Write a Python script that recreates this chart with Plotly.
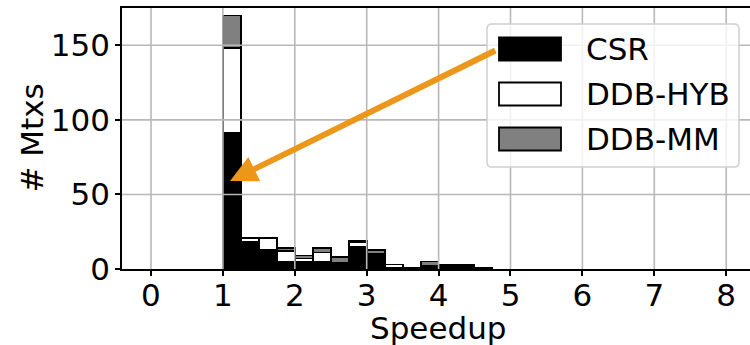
import plotly.graph_objects as go

# ---- data ----
bin_starts = [1.00, 1.25, 1.50, 1.75, 2.00, 2.25, 2.50, 2.75, 3.00, 3.25, 3.50, 3.75, 4.00, 4.25, 4.50]
bin_width = 0.25
csr = [91, 18, 13, 5, 5, 5, 4, 15, 10, 1, 1, 2, 3, 3, 1]
ddb_hyb = [57, 3, 8, 7, 2, 6, 0, 3, 0, 2, 0, 0, 0, 0, 0]
ddb_mm = [22, 0, 0, 2, 2, 3, 4, 1, 3, 0, 0, 3, 0, 0, 0]
series_names = ["CSR", "DDB-HYB", "DDB-MM"]
series_colors = ["black", "white", "gray"]
x_ticks = [0, 1, 2, 3, 4, 5, 6, 7, 8]
y_ticks = [0, 50, 100, 150]
x_label = "Speedup"
y_label = "# Mtxs"
arrow_tail = (4.81, 147)
arrow_tip = (1.10, 59)

# ---- geometry ----
W, H = 750, 345
ML, MR, MT, MB = 122, 0, 8, 76
PW, PH = W - ML - MR, H - MT - MB
XR = [-0.403, 8.331]
YR = [0, 175]
FONT = "DejaVu Sans"
FS = 31
ORANGE = "#EC9719"
GRID = "#b8b8b8"


def px(X):
    return (X - ML) / PW


def py(Y):
    return (H - MB - Y) / PH


centers = [s + bin_width / 2 for s in bin_starts]

fig = go.Figure()
for name, vals, col in zip(series_names, [csr, ddb_hyb, ddb_mm], series_colors):
    fig.add_trace(go.Bar(
        x=centers, y=vals, width=bin_width, name=name,
        marker=dict(color=col, line=dict(color="black", width=1.8)),
        showlegend=False,
    ))

shapes = []
# grid lines drawn above bars (as in the reference)
for t in x_ticks:
    shapes.append(dict(type="line", xref="x", yref="paper", x0=t, x1=t, y0=0, y1=1,
                       line=dict(color=GRID, width=1.6), layer="above"))
for t in y_ticks[1:]:
    shapes.append(dict(type="line", xref="paper", yref="y", x0=0, x1=1, y0=t, y1=t,
                       line=dict(color=GRID, width=1.6), layer="above"))

# legend frame (rounded, semi-transparent)
lx0, lx1, ly0, ly1 = px(487), px(739), py(167), py(24)
rx, ry = 5 / PW, 5 / PH
path = (f"M{lx0+rx},{ly0} L{lx1-rx},{ly0} Q{lx1},{ly0} {lx1},{ly0+ry} "
        f"L{lx1},{ly1-ry} Q{lx1},{ly1} {lx1-rx},{ly1} L{lx0+rx},{ly1} "
        f"Q{lx0},{ly1} {lx0},{ly1-ry} L{lx0},{ly0+ry} Q{lx0},{ly0} {lx0+rx},{ly0} Z")
shapes.append(dict(type="path", xref="paper", yref="paper", path=path,
                   fillcolor="rgba(255,255,255,0.8)",
                   line=dict(color="#d0d0d0", width=1.5), layer="above"))

annotations = []
row_centers = [49, 94, 139]
for name, col, yc in zip(series_names, series_colors, row_centers):
    shapes.append(dict(type="rect", xref="paper", yref="paper",
                       x0=px(499), x1=px(561), y0=py(yc + 11.5), y1=py(yc - 11.5),
                       fillcolor=col, line=dict(color="black", width=1.8), layer="above"))
    annotations.append(dict(text=name, xref="paper", yref="paper", x=px(584), y=py(yc),
                            xanchor="left", yanchor="middle", showarrow=False,
                            font=dict(family=FONT, size=FS, color="black")))

# arrow
annotations.append(dict(text="", x=arrow_tip[0], y=arrow_tip[1], xref="x", yref="y",
                        ax=arrow_tail[0], ay=arrow_tail[1], axref="x", ayref="y",
                        showarrow=True, arrowhead=2, arrowsize=0.9, arrowwidth=6,
                        arrowcolor=ORANGE, standoff=0, startstandoff=0))

# axis titles
annotations.append(dict(text=x_label, xref="paper", yref="paper", x=px(438.5), y=py(327.5),
                        xanchor="center", yanchor="middle", showarrow=False, borderpad=0,
                        font=dict(family=FONT, size=FS, color="black")))
annotations.append(dict(text=y_label, xref="paper", yref="paper", x=px(31.5), y=py(138),
                        xanchor="center", yanchor="middle", showarrow=False, textangle=-90,
                        font=dict(family=FONT, size=FS, color="black")))

fig.update_layout(
    width=W, height=H,
    margin=dict(l=ML, r=MR, t=MT, b=MB, pad=0),
    barmode="stack",
    plot_bgcolor="white", paper_bgcolor="white",
    font=dict(family=FONT, size=FS, color="black"),
    shapes=shapes, annotations=annotations,
    xaxis=dict(range=XR, tickvals=x_ticks, ticktext=[str(t) for t in x_ticks],
               showgrid=False, zeroline=False, showline=True, linecolor="black", linewidth=1.6,
               mirror=True, ticks="outside", ticklen=5, tickwidth=1.5, tickcolor="black",
               ticklabelstandoff=-7, layer="above traces"),
    yaxis=dict(range=YR, tickvals=y_ticks, ticktext=[str(t) for t in y_ticks],
               showgrid=False, zeroline=False, showline=True, linecolor="black", linewidth=1.6,
               ticks="outside", ticklen=5, tickwidth=1.5, tickcolor="black",
               ticklabelstandoff=-1, layer="above traces"),
)

fig.write_html("out.html")
